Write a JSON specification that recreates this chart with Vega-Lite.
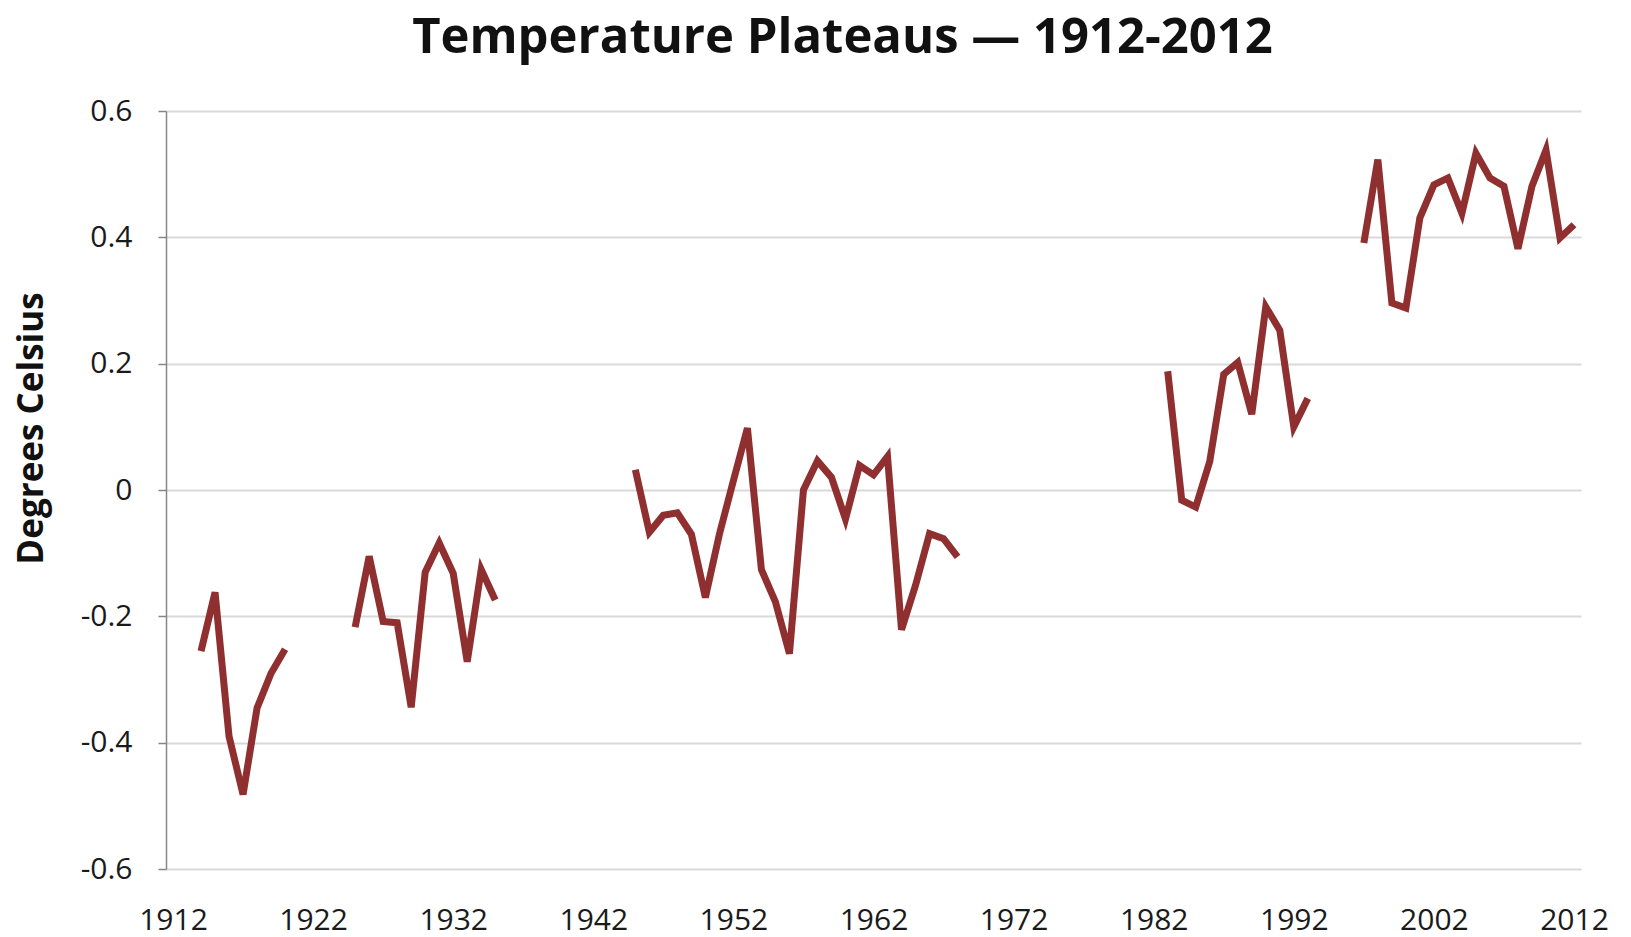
{
  "$schema": "https://vega.github.io/schema/vega-lite/v6.json",
  "autosize": {"type": "none"},
  "width": 1415,
  "height": 758,
  "padding": {"left": 166, "top": 111, "right": 50, "bottom": 68},
  "background": "white",
  "title": {
    "text": "Temperature Plateaus — 1912-2012",
    "font": "Open Sans",
    "fontSize": 49,
    "fontWeight": "bold",
    "color": "#111111",
    "anchor": "middle",
    "dx": -31,
    "offset": 33
  },
  "config": {
    "view": {"stroke": null},
    "axis": {"labelFont": "Open Sans", "titleFont": "Open Sans"}
  },
  "data": {
    "values": [
      {"year": 1914, "temp": -0.255, "seg": 1},
      {"year": 1915, "temp": -0.162, "seg": 1},
      {"year": 1916, "temp": -0.39, "seg": 1},
      {"year": 1917, "temp": -0.482, "seg": 1},
      {"year": 1918, "temp": -0.345, "seg": 1},
      {"year": 1919, "temp": -0.29, "seg": 1},
      {"year": 1920, "temp": -0.252, "seg": 1},
      {"year": 1925, "temp": -0.217, "seg": 2},
      {"year": 1926, "temp": -0.105, "seg": 2},
      {"year": 1927, "temp": -0.208, "seg": 2},
      {"year": 1928, "temp": -0.21, "seg": 2},
      {"year": 1929, "temp": -0.344, "seg": 2},
      {"year": 1930, "temp": -0.13, "seg": 2},
      {"year": 1931, "temp": -0.084, "seg": 2},
      {"year": 1932, "temp": -0.132, "seg": 2},
      {"year": 1933, "temp": -0.272, "seg": 2},
      {"year": 1934, "temp": -0.126, "seg": 2},
      {"year": 1935, "temp": -0.174, "seg": 2},
      {"year": 1945, "temp": 0.032, "seg": 3},
      {"year": 1946, "temp": -0.067, "seg": 3},
      {"year": 1947, "temp": -0.04, "seg": 3},
      {"year": 1948, "temp": -0.036, "seg": 3},
      {"year": 1949, "temp": -0.07, "seg": 3},
      {"year": 1950, "temp": -0.17, "seg": 3},
      {"year": 1951, "temp": -0.07, "seg": 3},
      {"year": 1952, "temp": 0.015, "seg": 3},
      {"year": 1953, "temp": 0.098, "seg": 3},
      {"year": 1954, "temp": -0.126, "seg": 3},
      {"year": 1955, "temp": -0.177, "seg": 3},
      {"year": 1956, "temp": -0.259, "seg": 3},
      {"year": 1957, "temp": 0.0, "seg": 3},
      {"year": 1958, "temp": 0.046, "seg": 3},
      {"year": 1959, "temp": 0.02, "seg": 3},
      {"year": 1960, "temp": -0.046, "seg": 3},
      {"year": 1961, "temp": 0.039, "seg": 3},
      {"year": 1962, "temp": 0.024, "seg": 3},
      {"year": 1963, "temp": 0.053, "seg": 3},
      {"year": 1964, "temp": -0.221, "seg": 3},
      {"year": 1965, "temp": -0.151, "seg": 3},
      {"year": 1966, "temp": -0.069, "seg": 3},
      {"year": 1967, "temp": -0.077, "seg": 3},
      {"year": 1968, "temp": -0.106, "seg": 3},
      {"year": 1983, "temp": 0.188, "seg": 4},
      {"year": 1984, "temp": -0.016, "seg": 4},
      {"year": 1985, "temp": -0.027, "seg": 4},
      {"year": 1986, "temp": 0.045, "seg": 4},
      {"year": 1987, "temp": 0.183, "seg": 4},
      {"year": 1988, "temp": 0.202, "seg": 4},
      {"year": 1989, "temp": 0.12, "seg": 4},
      {"year": 1990, "temp": 0.29, "seg": 4},
      {"year": 1991, "temp": 0.253, "seg": 4},
      {"year": 1992, "temp": 0.1, "seg": 4},
      {"year": 1993, "temp": 0.145, "seg": 4},
      {"year": 1997, "temp": 0.391, "seg": 5},
      {"year": 1998, "temp": 0.523, "seg": 5},
      {"year": 1999, "temp": 0.296, "seg": 5},
      {"year": 2000, "temp": 0.288, "seg": 5},
      {"year": 2001, "temp": 0.431, "seg": 5},
      {"year": 2002, "temp": 0.483, "seg": 5},
      {"year": 2003, "temp": 0.494, "seg": 5},
      {"year": 2004, "temp": 0.438, "seg": 5},
      {"year": 2005, "temp": 0.533, "seg": 5},
      {"year": 2006, "temp": 0.494, "seg": 5},
      {"year": 2007, "temp": 0.481, "seg": 5},
      {"year": 2008, "temp": 0.382, "seg": 5},
      {"year": 2009, "temp": 0.481, "seg": 5},
      {"year": 2010, "temp": 0.538, "seg": 5},
      {"year": 2011, "temp": 0.399, "seg": 5},
      {"year": 2012, "temp": 0.42, "seg": 5}
    ]
  },
  "mark": {"type": "line", "color": "#902f2f", "strokeWidth": 7},
  "encoding": {
    "x": {
      "field": "year",
      "type": "quantitative",
      "scale": {"domain": [1911.5, 2012.5], "nice": false, "zero": false},
      "axis": {
        "title": null,
        "values": [1912, 1922, 1932, 1942, 1952, 1962, 1972, 1982, 1992, 2002, 2012],
        "format": "d",
        "grid": false,
        "domain": false,
        "ticks": false,
        "labelPadding": 51,
        "labelBaseline": "middle",
        "labelFontSize": 30,
        "labelColor": "#1a1a1a",
        "labelFlush": false,
        "labelOverlap": false
      }
    },
    "y": {
      "field": "temp",
      "type": "quantitative",
      "scale": {"domain": [-0.6, 0.6], "nice": false, "zero": false},
      "axis": {
        "title": "Degrees Celsius",
        "titleFontSize": 35,
        "titleFontWeight": "bold",
        "titleColor": "#111111",
        "titleAngle": 270,
        "titleX": -135,
        "titleY": 317,
        "titleAlign": "center",
        "titleBaseline": "middle",
        "values": [-0.6, -0.4, -0.2, 0, 0.2, 0.4, 0.6],
        "labelExpr": "toString(datum.value)",
        "grid": true,
        "gridColor": "#d9d9d9",
        "gridWidth": 2,
        "domain": true,
        "domainColor": "#868686",
        "domainWidth": 1.5,
        "ticks": true,
        "tickColor": "#868686",
        "tickSize": 8,
        "tickWidth": 1.5,
        "labelPadding": 26,
        "labelFontSize": 30,
        "labelColor": "#1a1a1a",
        "labelFlush": false,
        "labelOverlap": false
      }
    },
    "detail": {"field": "seg", "type": "nominal"}
  }
}
